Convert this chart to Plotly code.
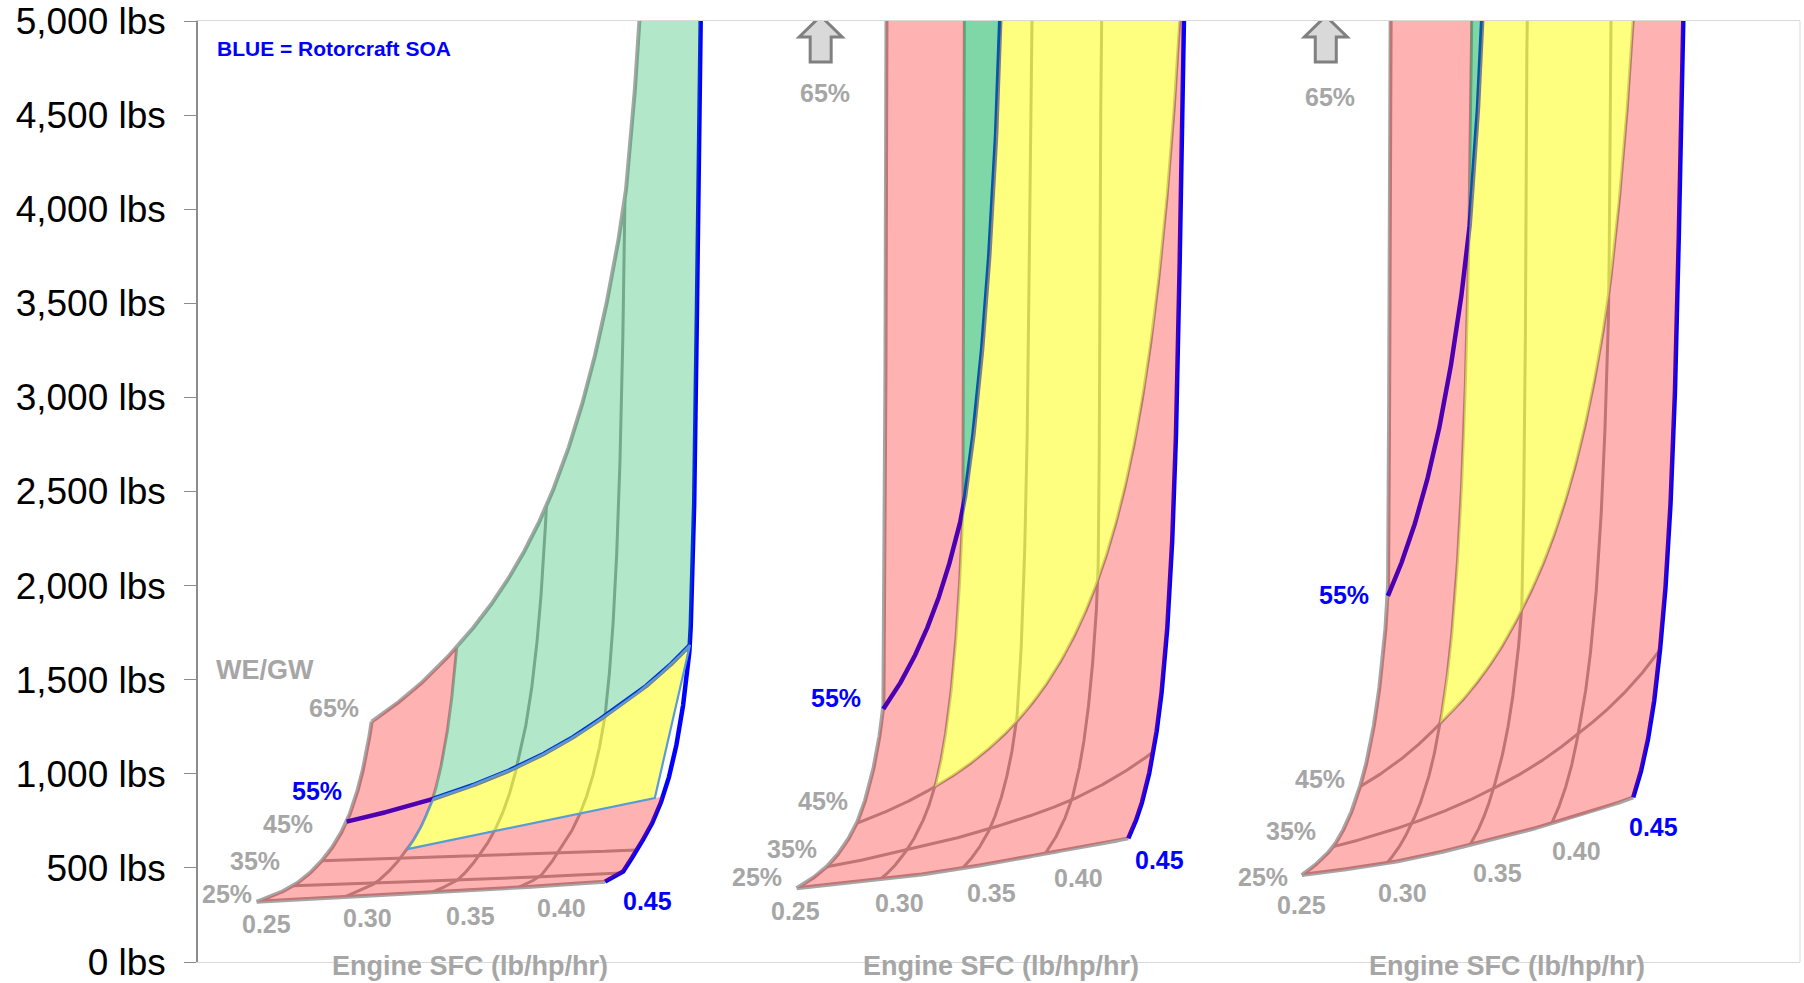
import numpy as np
import plotly.graph_objects as go

# ---------------------------------------------------------------- data
SFC_VALUES = [0.25, 0.30, 0.35, 0.40, 0.45]          # engine SFC, lb/hp/hr (carpet a-axis)
WEGW_VALUES = [0.25, 0.35, 0.45, 0.55, 0.65]         # empty weight / gross weight (carpet b-axis)
SFC_LABELS = ["0.25", "0.30", "0.35", "0.40", "0.45"]
WEGW_LABELS = ["25%", "35%", "45%", "55%", "65%"]
Y_TICK_VALUES = [0, 500, 1000, 1500, 2000, 2500, 3000, 3500, 4000, 4500, 5000]
Y_TICK_LABELS = ["0 lbs", "500 lbs", "1,000 lbs", "1,500 lbs", "2,000 lbs", "2,500 lbs",
                 "3,000 lbs", "3,500 lbs", "4,000 lbs", "4,500 lbs", "5,000 lbs"]

# Gross weight (lbs) at each carpet node. rows: WE/GW 25..65 %, cols: SFC 0.25..0.45
# None = off the top of the scale (weight diverges)
P1_GROSS_WEIGHT = [
    [320, 343, 368, 395, 427],
    [405, 420, 436, 453, 473],
    [538, 552, 566, 580, 595],
    [746, 866, 1035, 1309, 1684],
    [1277, 1675, 2423, 4050, None],
]
P2_GROSS_WEIGHT = [
    [392, 436, 498, 578, 657],
    [506, 595, 710, 861, 1117],
    [737, 931, 1277, 2030, 5300],
    [1344, 2402, None, None, None],
    [None, None, None, None, None],
]
P3_GROSS_WEIGHT = [
    [462, 524, 622, 737, 875],
    [613, 737, 923, 1215, 1658],
    [931, 1268, 1870, 3555, None],
    [1945, 3873, None, None, None],
    [None, None, None, None, None],
]

# Carpet "cheater" axis position of every node (hidden x axis, 0..100)
P1_CHEATER_X = [
    [3.66, 9.10, 14.54, 19.98, 25.41],
    [5.95, 11.08, 16.21, 21.34, 26.47],
    [7.72, 12.63, 17.53, 22.43, 27.34],
    [9.28, 14.65, 19.89, 25.41, 30.71],
    [10.84, 16.15, 21.75, 26.65, 31.56],
]
P2_CHEATER_X = [
    [37.37, 42.55, 47.72, 52.90, 58.07],
    [39.24, 44.24, 49.44, 54.54, 59.63],
    [41.12, 46.00, 51.10, 56.18, 61.49],
    [42.78, 47.75, 52.31, 56.49, 61.92],
    [43.01, 47.88, 52.56, 56.93, 62.23],
]
P3_CHEATER_X = [
    [68.90, 74.20, 79.40, 84.50, 89.59],
    [70.87, 75.76, 80.86, 86.16, 91.26],
    [72.53, 77.53, 82.63, 88.08, 93.32],
    [74.28, 79.34, 83.15, 88.26, 93.76],
    [74.49, 79.90, 83.77, 88.76, 94.38],
]

# Region limits, in (SFC, WE/GW)
SOA_SFC = 0.45
SOA_WEGW = 0.55
REGION_MIN_SFC = 0.30
P1_YELLOW_FLOOR = [(0.30, 0.472), (0.445, 0.50)]
P23_YELLOW_FLOOR_WEGW = 0.45

# ---------------------------------------------------------------- style
GRID_GRAY = "#A6A6A6"
BLUE = "#0000FF"
LABEL_GRAY = "#A6A6A6"
PINK = "rgba(255,0,0,0.30)"
YELLOW = "rgba(255,255,0,0.50)"
GREEN_LIGHT = "rgba(0,176,80,0.30)"
GREEN_DARK = "rgba(0,176,80,0.50)"
FONT = "Arial, Liberation Sans, sans-serif"

# label offsets (pixels) from their carpet node, per panel
WEGW_LABEL_SHIFT = [
    [(-30, 8), (-38, 25), (-34, 37), (-30, 31), (-38, 14)],
    [(-40, 11), (-35, 18), (-34, 22), (-47, 11), None],
    [(-39, -2), (-42, 16), (-40, 8), (-44, 1), None],
]
SFC_LABEL_SHIFT = [
    [(10, -22), (24, -21), (40, -23), (43, -20), (42, -19)],
    [(-1, -23), (20, -23), (29, -25), (33, -25), (31, -22)],
    [(0, -30), (16, -30), (28, -28), (25, -28), (20, -30)],
]
ARROW_PATH = "M24,5 L45.5,-16 L34.5,-16 L34.5,-41 L13.5,-41 L13.5,-16 L2.5,-16 Z"

A_NODES = np.array(SFC_VALUES, dtype=float)
B_NODES = np.array(WEGW_VALUES, dtype=float)
CAP_LBS = 6000.0
N = 900


def make_carpet(gw, cx):
    R = np.array([[0.0 if v is None else 1.0 / v for v in row] for row in gw], dtype=float)
    C = np.array(cx, dtype=float)

    def to_xy(a, b):
        a = np.asarray(a, dtype=float)
        b = np.asarray(b, dtype=float)
        i = np.clip(np.searchsorted(A_NODES, a, side="right") - 1, 0, len(A_NODES) - 2)
        j = np.clip(np.searchsorted(B_NODES, b, side="right") - 1, 0, len(B_NODES) - 2)
        t = (a - A_NODES[i]) / (A_NODES[i + 1] - A_NODES[i])
        u = (b - B_NODES[j]) / (B_NODES[j + 1] - B_NODES[j])

        def bil(M):
            return ((1 - t) * (1 - u) * M[j, i] + t * (1 - u) * M[j, i + 1]
                    + (1 - t) * u * M[j + 1, i] + t * u * M[j + 1, i + 1])

        x = bil(C)
        r = bil(R)
        y = 1.0 / np.maximum(r, 1.0 / CAP_LBS)
        return x, y

    return to_xy


def a_line(a, b0=WEGW_VALUES[0], b1=WEGW_VALUES[-1], n=N):
    return np.full(n, float(a)), np.linspace(b0, b1, n)


def b_line(b, a0=SFC_VALUES[0], a1=SFC_VALUES[-1], n=N):
    return np.linspace(a0, a1, n), np.full(n, float(b))


def pt(a, b):
    return np.array([a], dtype=float), np.array([b], dtype=float)


def chain(*parts):
    return np.concatenate([p[0] for p in parts]), np.concatenate([p[1] for p in parts])


def lines_trace(to_xy, parts, color, width):
    xs, ys = [], []
    for a, b in parts:
        x, y = to_xy(a, b)
        xs += list(x) + [None]
        ys += list(y) + [None]
    return go.Scatter(x=xs, y=ys, mode="lines", line=dict(color=color, width=width),
                      hoverinfo="skip", showlegend=False)


def fill_trace(to_xy, ab, fillcolor, line_color="rgba(0,0,0,0)", line_width=0):
    x, y = to_xy(*ab)
    return go.Scatter(x=x, y=y, mode="lines", fill="toself", fillcolor=fillcolor,
                      line=dict(color=line_color, width=line_width),
                      hoverinfo="skip", showlegend=False)


panels = [
    dict(gw=P1_GROSS_WEIGHT, cx=P1_CHEATER_X, kind=1, green=GREEN_LIGHT),
    dict(gw=P2_GROSS_WEIGHT, cx=P2_CHEATER_X, kind=2, green=GREEN_DARK),
    dict(gw=P3_GROSS_WEIGHT, cx=P3_CHEATER_X, kind=3, green=GREEN_DARK),
]

fig = go.Figure()
annotations = []
shapes = []
a0, a1 = SFC_VALUES[0], SFC_VALUES[-1]
b0, b1 = WEGW_VALUES[0], WEGW_VALUES[-1]

for k, p in enumerate(panels):
    f = make_carpet(p["gw"], p["cx"])
    # gray grid: boundaries thicker
    outer = [a_line(a0), b_line(b0), b_line(b1)]
    inner = [a_line(a) for a in SFC_VALUES[1:-1]] + \
            [b_line(b) for b in WEGW_VALUES[1:-1] if b != SOA_WEGW]
    fig.add_trace(lines_trace(f, inner, GRID_GRAY, 3))
    fig.add_trace(lines_trace(f, outer, GRID_GRAY, 4))
    # blue state-of-the-art lines
    fig.add_trace(lines_trace(f, [b_line(SOA_WEGW), a_line(SOA_SFC)], BLUE, 4.5))

    # green region: WE/GW above SOA, SFC >= 0.30
    green = chain(b_line(SOA_WEGW, REGION_MIN_SFC, a1), a_line(a1, SOA_WEGW, b1),
                  b_line(b1, a1, REGION_MIN_SFC), a_line(REGION_MIN_SFC, b1, SOA_WEGW))
    if p["kind"] == 1:
        (ya0, yb0), (ya1, yb1) = P1_YELLOW_FLOOR
        yellow = chain(a_line(REGION_MIN_SFC, yb0, SOA_WEGW), b_line(SOA_WEGW, REGION_MIN_SFC, a1),
                       pt(ya1, yb1), pt(ya0, yb0))
        pink = chain(b_line(b0), a_line(a1, b0, yb1), pt(ya1, yb1), pt(ya0, yb0),
                     a_line(REGION_MIN_SFC, yb0, b1), b_line(b1, REGION_MIN_SFC, a0), a_line(a0, b1, b0))
        fig.add_trace(fill_trace(f, pink, PINK))
        fig.add_trace(fill_trace(f, green, p["green"]))
        fig.add_trace(fill_trace(f, yellow, YELLOW, "#5B9BD5", 2.2))
    else:
        fl = P23_YELLOW_FLOOR_WEGW
        yellow = chain(b_line(fl, REGION_MIN_SFC, a1), a_line(a1, fl, SOA_WEGW),
                       b_line(SOA_WEGW, a1, REGION_MIN_SFC), a_line(REGION_MIN_SFC, SOA_WEGW, fl))
        pink = chain(b_line(b0), a_line(a1, b0, fl), b_line(fl, a1, REGION_MIN_SFC),
                     a_line(REGION_MIN_SFC, fl, b1), b_line(b1, REGION_MIN_SFC, a0), a_line(a0, b1, b0))
        fig.add_trace(fill_trace(f, pink, PINK))
        fig.add_trace(fill_trace(f, green, p["green"]))
        fig.add_trace(fill_trace(f, yellow, YELLOW))

    X, W = p["cx"], p["gw"]
    # WE/GW labels along the SFC 0.25 edge
    for j, lab in enumerate(WEGW_LABELS):
        if W[j][0] is None:
            continue
        dx, dy = WEGW_LABEL_SHIFT[k][j]
        col = BLUE if WEGW_VALUES[j] == SOA_WEGW else LABEL_GRAY
        annotations.append(dict(x=X[j][0], y=W[j][0], xref="x", yref="y", text=lab, showarrow=False,
                                xshift=dx, yshift=dy, font=dict(family=FONT, size=25, color=col, weight="bold")))
    # SFC labels along the 25 % edge
    for i, lab in enumerate(SFC_LABELS):
        dx, dy = SFC_LABEL_SHIFT[k][i]
        col = BLUE if SFC_VALUES[i] == SOA_SFC else LABEL_GRAY
        annotations.append(dict(x=X[0][i], y=W[0][i], xref="x", yref="y", text=lab, showarrow=False,
                                xshift=dx, yshift=dy,
                                font=dict(family=FONT, size=25, color=col, weight="bold")))
    # axis title under each carpet
    annotations.append(dict(x=(X[0][0] + X[0][-1]) / 2, y=0, xref="x", yref="y",
                            text="Engine SFC (lb/hp/hr)", showarrow=False, xshift=39, yshift=-4,
                            yanchor="middle",
                            font=dict(family=FONT, size=27, color=LABEL_GRAY, weight="bold")))
    if p["kind"] == 1:
        annotations.append(dict(x=X[-1][0], y=W[-1][0], xref="x", yref="y", text="WE/GW", showarrow=False,
                                xshift=-107, yshift=52,
                                font=dict(family=FONT, size=27, color=LABEL_GRAY, weight="bold")))
    else:
        # 65 % is off the top: arrow marker
        shapes.append(dict(type="path", xref="x", yref="y", xsizemode="pixel", ysizemode="pixel",
                           xanchor=X[0][0], yanchor=Y_TICK_VALUES[-1], path=ARROW_PATH,
                           fillcolor="#D9D9D9", line=dict(color="#808080", width=3), layer="above"))
        annotations.append(dict(x=X[0][0], y=Y_TICK_VALUES[-1], xref="x", yref="y", text=WEGW_LABELS[-1],
                                showarrow=False, xshift=28, yshift=-72 - 4 * (k - 1),
                                font=dict(family=FONT, size=25, color=LABEL_GRAY, weight="bold")))

annotations.append(dict(x=0.0106, y=Y_TICK_VALUES[-1], xref="paper", yref="y", xanchor="left",
                        yanchor="middle", yshift=-27, text="BLUE = Rotorcraft SOA", showarrow=False,
                        font=dict(family=FONT, size=21, color=BLUE, weight="bold")))
shapes.append(dict(type="line", xref="paper", yref="paper", x0=1, x1=1, y0=0, y1=1,
                   line=dict(color="#D9D9D9", width=1)))

fig.update_layout(
    width=1804, height=983, autosize=False,
    margin=dict(l=198, r=4, t=21, b=21, autoexpand=False),
    paper_bgcolor="white", plot_bgcolor="white",
    showlegend=False,
    annotations=annotations, shapes=shapes,
    xaxis=dict(range=[0, 100], showticklabels=False, ticks="", showgrid=False, zeroline=False,
               showline=True, linecolor="#D9D9D9", linewidth=1, mirror=True, fixedrange=True,
               automargin=False),
    yaxis=dict(range=[0, 5000], tickvals=Y_TICK_VALUES, ticktext=Y_TICK_LABELS,
               showgrid=False, zeroline=False, showline=True, linecolor="#8C8C8C", linewidth=1.5,
               ticks="outside", ticklen=12, tickcolor="#8C8C8C", tickwidth=1.3,
               ticklabelstandoff=11, automargin=False,
               tickfont=dict(family=FONT, size=37, color="#000000"), fixedrange=True),
)

fig.write_html("out.html",
               config={"displayModeBar": False, "staticPlot": False},
               post_script="document.body.style.margin='0';"
                           "document.documentElement.style.overflow='hidden';")
